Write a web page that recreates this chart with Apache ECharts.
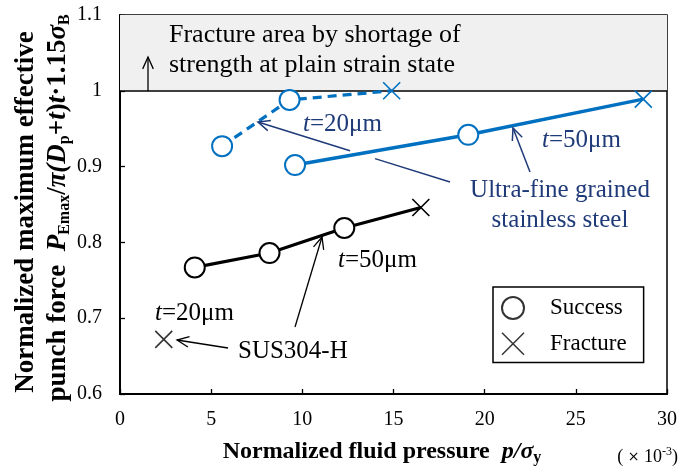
<!DOCTYPE html>
<html><head><meta charset="utf-8">
<script src="https://cdn.jsdelivr.net/npm/echarts@6/dist/echarts.min.js"></script>
<style>html,body{margin:0;padding:0;background:#fff}#c{width:682px;height:472px}</style>
</head><body><div id="c"></div>
<script>
// ---- data ----
const susT50X = [4.1, 8.2, 12.3, 16.5];
const susT50Y = [0.767, 0.786, 0.819, 0.846];
const susT50Res = ['S', 'S', 'S', 'F'];
const susT20X = [2.4];
const susT20Y = [0.672];
const susT20Res = ['F'];
const ufgT20X = [5.6, 9.3, 14.9];
const ufgT20Y = [0.927, 0.988, 1.0];
const ufgT20Res = ['S', 'S', 'F'];
const ufgT50X = [9.6, 19.1, 28.7];
const ufgT50Y = [0.902, 0.942, 0.989];
const ufgT50Res = ['S', 'S', 'F'];
const xAxisRange = [0, 30, 5];
const yAxisRange = [0.6, 1.1, 0.1];
const fractureZone = [1.0, 1.1];
const legendNames = ['Success', 'Fracture'];

// ---- styling ----
const SERIF = 'Liberation Serif';
const BLUE = '#0070C0';
const NAVY = '#1F3A78';
const XPATH = 'path://M0,0L20,20M20,0L0,20';

function pts(xs, ys, res, color) {
  return xs.map((x, i) => {
    const f = res[i] === 'F';
    return {
      value: [x, ys[i]],
      symbol: f ? XPATH : 'emptyCircle',
      symbolSize: f ? 17 : 20,
      itemStyle: { color: color, borderColor: color, borderWidth: 1.6 }
    };
  });
}

function arrow(x1, y1, x2, y2, color, w) {
  const a = Math.atan2(y2 - y1, x2 - x1), L = 13, s = 0.42;
  return [
    { type: 'line', silent: true, z: 200, shape: { x1, y1, x2, y2 }, style: { stroke: color, lineWidth: w } },
    { type: 'polyline', silent: true, z: 200, shape: { points: [
      [x2 - L * Math.cos(a - s), y2 - L * Math.sin(a - s)], [x2, y2],
      [x2 - L * Math.cos(a + s), y2 - L * Math.sin(a + s)]] },
      style: { stroke: color, lineWidth: w, fill: null } }
  ];
}
function seg(x1, y1, x2, y2, color, w) {
  return { type: 'line', silent: true, z: 200, shape: { x1, y1, x2, y2 }, style: { stroke: color, lineWidth: w } };
}
function txt(x, y, text, color, size, align, rich) {
  return { type: 'text', silent: true, z: 210, x, y,
    style: { text, fill: color, font: size + 'px "' + SERIF + '"', fontFamily: SERIF, fontSize: size,
      align: align || 'left', verticalAlign: 'middle', rich: rich || {} } };
}
function tRich(color, size) {
  return {
    i: { fontStyle: 'italic', fontFamily: SERIF, fontSize: size, fill: color },
    n: { fontFamily: SERIF, fontSize: size, fill: color }
  };
}

const chart = echarts.init(document.getElementById('c'), null, { renderer: 'canvas' });

const yTitleRich = {
  b: { fontFamily: SERIF, fontWeight: 'bold', fontSize: 27, fill: '#000', lineHeight: 30 },
  bi: { fontFamily: SERIF, fontWeight: 'bold', fontStyle: 'italic', fontSize: 27, fill: '#000', lineHeight: 30 },
  sub: { fontFamily: SERIF, fontWeight: 'bold', fontSize: 16, fill: '#000', lineHeight: 14, verticalAlign: 'bottom' }
};
const xTitleRich = {
  b: { fontFamily: SERIF, fontWeight: 'bold', fontSize: 24, fill: '#000', lineHeight: 28 },
  bi: { fontFamily: SERIF, fontWeight: 'bold', fontStyle: 'italic', fontSize: 24, fill: '#000', lineHeight: 28 },
  sub: { fontFamily: SERIF, fontWeight: 'bold', fontSize: 16, fill: '#000', lineHeight: 12, verticalAlign: 'bottom' }
};
const multRich = {
  n: { fontFamily: SERIF, fontSize: 18, fill: '#000', lineHeight: 22 },
  s: { fontFamily: 'DejaVu Sans', fontSize: 14, fill: '#000', lineHeight: 22 },
  sup: { fontFamily: SERIF, fontSize: 12, fill: '#000', lineHeight: 14, verticalAlign: 'top' }
};

const graphics = [].concat(
  // fracture zone text + up arrow
  txt(169, 35, 'Fracture area by shortage of', '#000', 26),
  txt(169, 65, 'strength at plain strain state', '#000', 26),
  arrow(148, 91, 148, 57, '#000', 1.3),
  // UFG annotations
  txt(303, 124, '{i|t}{n|=20μm}', NAVY, 25, 'left', tRich(NAVY, 25)),
  txt(542, 140, '{i|t}{n|=50μm}', NAVY, 25, 'left', tRich(NAVY, 25)),
  txt(560, 190, 'Ultra-fine grained', NAVY, 25, 'center'),
  txt(560, 220, 'stainless steel', NAVY, 25, 'center'),
  seg(450, 182, 375, 158.6, NAVY, 1.5),
  arrow(350, 150.8, 258, 122, NAVY, 1.5),
  arrow(530, 172, 513, 128, NAVY, 1.5),
  // SUS annotations
  txt(338, 260, '{i|t}{n|=50μm}', '#000', 25, 'left', tRich('#000', 25)),
  txt(155, 313, '{i|t}{n|=20μm}', '#000', 25, 'left', tRich('#000', 25)),
  txt(238, 351, 'SUS304-H', '#000', 25, 'left'),
  arrow(295, 327, 322, 237, '#000', 1.3),
  arrow(228, 348, 177, 340, '#000', 1.3),
  // axis titles
  { type: 'text', silent: true, z: 210, x: 26, y: 212, rotation: Math.PI / 2,
    style: { text: '{b|Normalized maximum effective}', align: 'center', verticalAlign: 'middle', rich: yTitleRich } },
  { type: 'text', silent: true, z: 210, x: 58, y: 208, rotation: Math.PI / 2,
    style: { text: '{b|punch force  }{bi|P}{sub|Emax}{b|/}{bi|π(D}{sub|p}{b|+}{bi|t}{b|)}{bi|t}{b|·1.15}{bi|σ}{sub|B}',
      align: 'center', verticalAlign: 'middle', rich: yTitleRich } },
  { type: 'text', silent: true, z: 210, x: 382, y: 452,
    style: { text: '{b|Normalized fluid pressure  }{bi|p/σ}{sub|y}', align: 'center', verticalAlign: 'middle', rich: xTitleRich } },
  { type: 'text', silent: true, z: 210, x: 678, y: 457,
    style: { text: '{n|( }{s|×}{n| 10}{sup|-3}{n|)}', align: 'right', verticalAlign: 'middle', rich: multRich } }
);

const option = {
  animation: false,
  backgroundColor: '#fff',
  grid: { left: 120, right: 15, top: 15, bottom: 78, show: true, borderColor: '#000', borderWidth: 1.5, backgroundColor: 'transparent' },
  xAxis: {
    type: 'value', min: xAxisRange[0], max: xAxisRange[1], interval: xAxisRange[2],
    axisLine: { lineStyle: { color: '#000', width: 2 } },
    axisTick: { inside: true, length: 5, lineStyle: { color: '#000', width: 1.3 } },
    axisLabel: { color: '#000', fontFamily: SERIF, fontSize: 20, margin: 16 },
    splitLine: { show: false }
  },
  yAxis: {
    type: 'value', min: yAxisRange[0], max: yAxisRange[1], interval: yAxisRange[2],
    axisLine: { lineStyle: { color: '#000', width: 2 } },
    axisTick: { inside: true, length: 5, lineStyle: { color: '#000', width: 1.3 } },
    axisLabel: { color: '#000', fontFamily: SERIF, fontSize: 20, margin: 18, formatter: v => String(+v.toFixed(1)) },
    splitLine: { show: false }
  },
  legend: {
    orient: 'vertical', left: 493, top: 287, padding: [9, 17, 7, 8], itemGap: 12,
    itemWidth: 22, itemHeight: 25, borderColor: '#000', borderWidth: 1.5, backgroundColor: '#fff',
    selectedMode: false,
    textStyle: { fontFamily: SERIF, fontSize: 23, color: '#000', padding: [0, 0, 0, 21] },
    data: [
      { name: legendNames[0], icon: 'emptyCircle', itemStyle: { color: '#000', borderColor: '#000', borderWidth: 1.5 } },
      { name: legendNames[1], icon: XPATH, itemStyle: { color: '#000', borderColor: '#000', borderWidth: 1.5 } }
    ]
  },
  series: [
    {
      type: 'line', name: 'zone', data: [], silent: true,
      markArea: { silent: true, itemStyle: { color: '#f0f0f0' }, data: [[{ yAxis: fractureZone[0] }, { yAxis: fractureZone[1] }]] },
      markLine: { silent: true, symbol: 'none', label: { show: false }, lineStyle: { color: '#000', width: 1.5, type: 'solid' }, data: [{ yAxis: fractureZone[0] }] }
    },
    { type: 'line', name: 'SUS304-H t=50', data: pts(susT50X, susT50Y, susT50Res, '#000'),
      lineStyle: { color: '#000', width: 3.2 }, z: 5 },
    { type: 'scatter', name: 'SUS304-H t=20', data: pts(susT20X, susT20Y, susT20Res, '#000'), z: 5 },
    { type: 'line', name: 'UFG t=20', data: pts(ufgT20X, ufgT20Y, ufgT20Res, BLUE),
      lineStyle: { color: BLUE, width: 3.2, type: [9, 6] }, z: 5 },
    { type: 'line', name: 'UFG t=50', data: pts(ufgT50X, ufgT50Y, ufgT50Res, BLUE),
      lineStyle: { color: BLUE, width: 3.5 }, z: 5 },
    { type: 'scatter', name: legendNames[0], data: [], symbol: 'emptyCircle', itemStyle: { color: '#000' } },
    { type: 'scatter', name: legendNames[1], data: [], symbol: XPATH, itemStyle: { color: '#000', borderColor: '#000', borderWidth: 1.5 } }
  ],
  graphic: graphics
};
chart.setOption(option);
</script></body></html>
